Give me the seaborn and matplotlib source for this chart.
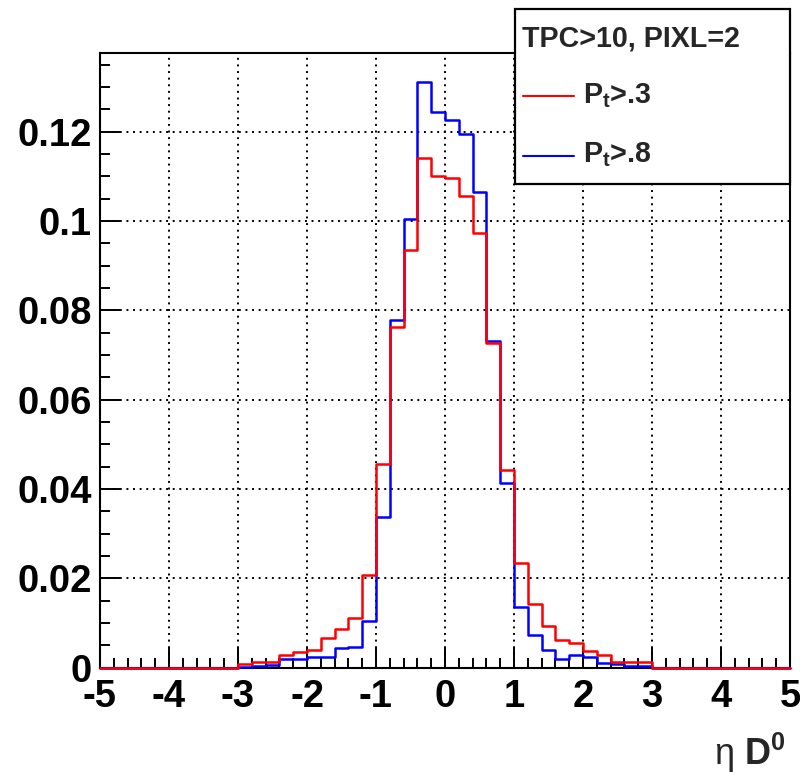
import numpy as np
import pandas as pd
import seaborn as sns
import matplotlib
matplotlib.use("Agg")
import matplotlib.pyplot as plt
from matplotlib.patches import Rectangle
from matplotlib.lines import Line2D
from matplotlib.ticker import MultipleLocator, FixedLocator, FixedFormatter

# ---- data (bin edges -5..5, width 0.2) ----
bin_edges = [round(-5.0 + 0.2 * i, 2) for i in range(51)]
pt03 = [0, 0, 0, 0, 0, 0, 0, 0, 0, 0,
        0.0007, 0.0012, 0.0012, 0.0029, 0.0034, 0.0040, 0.0066, 0.0087, 0.0110, 0.0206,
        0.0455, 0.0762, 0.0934, 0.1140, 0.1101, 0.1097, 0.1055, 0.0973, 0.0726, 0.0443,
        0.0233, 0.0142, 0.0094, 0.0062, 0.0055, 0.0036, 0.0028, 0.0012, 0.0012, 0.0012,
        0, 0, 0, 0, 0, 0, 0, 0, 0, 0]
pt08 = [0, 0, 0, 0, 0, 0, 0, 0, 0, 0,
        0.0002, 0.0003, 0.0005, 0.0018, 0.0018, 0.0023, 0.0023, 0.0044, 0.0045, 0.0104,
        0.0336, 0.0778, 0.1004, 0.1312, 0.1243, 0.1226, 0.1194, 0.1064, 0.0730, 0.0412,
        0.0135, 0.0072, 0.0040, 0.0018, 0.0028, 0.0023, 0.0010, 0.0007, 0.0003, 0.0003,
        0, 0, 0, 0, 0, 0, 0, 0, 0, 0]
x_ticks = [-5, -4, -3, -2, -1, 0, 1, 2, 3, 4, 5]
x_tick_labels = ["-5", "-4", "-3", "-2", "-1", "0", "1", "2", "3", "4", "5"]
y_ticks = [0, 0.02, 0.04, 0.06, 0.08, 0.10, 0.12]
y_tick_labels = ["0", "0.02", "0.04", "0.06", "0.08", "0.1", "0.12"]
legend_title = "TPC>10, PIXL=2"
series_labels = [r"$\mathbf{P}_\mathbf{t}$>.3", r"$\mathbf{P}_\mathbf{t}$>.8"]
x_label = r"η $\mathbf{D}^\mathbf{0}$"

edges_arr = np.array(bin_edges)
centers = (edges_arr[:-1] + edges_arr[1:]) / 2
df = pd.DataFrame({"eta": np.concatenate([centers, centers]),
                   "w": pt03 + pt08,
                   "sel": ["pt03"] * len(centers) + ["pt08"] * len(centers)})

sns.set_style("white")
plt.rcParams["font.family"] = ["Liberation Sans", "DejaVu Sans"]
plt.rcParams["mathtext.fontset"] = "custom"
plt.rcParams["mathtext.rm"] = "Liberation Sans"
plt.rcParams["mathtext.bf"] = "Liberation Sans:bold"
plt.rcParams["mathtext.it"] = "Liberation Sans:italic"

fig = plt.figure(figsize=(8, 7.75), dpi=100)
ax = fig.add_axes([100 / 800, 1 - 667.5 / 775, 690 / 800, (667.5 - 52.5) / 775])

sns.histplot(data=df[df.sel == "pt08"], x="eta", weights="w", bins=bin_edges,
             element="step", fill=False, color="#0000ff", linewidth=1.8, ax=ax)
sns.histplot(data=df[df.sel == "pt03"], x="eta", weights="w", bins=bin_edges,
             element="step", fill=False, color="#ff0000", linewidth=1.8, ax=ax)
for i, ln in enumerate(ax.lines):
    ln.set_zorder(3 + i)
    ln.set_clip_on(False)

ax.set_xlim(-5, 5)
ax.set_ylim(0, 0.1377)
ax.set_xlabel("")
ax.set_ylabel("")

ax.xaxis.set_major_locator(FixedLocator(x_ticks))
ax.xaxis.set_major_formatter(FixedFormatter(x_tick_labels))
ax.yaxis.set_major_locator(FixedLocator(y_ticks))
ax.yaxis.set_major_formatter(FixedFormatter(y_tick_labels))
ax.xaxis.set_minor_locator(MultipleLocator(0.2))
ax.yaxis.set_minor_locator(MultipleLocator(0.005))

ax.tick_params(which="both", direction="in", bottom=True, left=True, top=False, right=False,
               color="black", width=1.4)
ax.tick_params(which="major", length=14.5)
ax.tick_params(which="minor", length=7.2)
ax.tick_params(axis="x", which="major", pad=8)
ax.tick_params(axis="y", which="major", pad=6)
for lab in ax.get_xticklabels() + ax.get_yticklabels():
    lab.set_fontsize(27.5)
    lab.set_fontweight("bold")
    lab.set_color("black")

ax.grid(which="major", color="black", linestyle=(0, (1, 2.4)), linewidth=1.4)
ax.set_axisbelow(True)
for s in ax.spines.values():
    s.set_visible(True)
    s.set_color("black")
    s.set_linewidth(1.5)
    s.set_zorder(2.5)

# legend box (ROOT TLegend style)
fig.add_artist(Rectangle((515 / 800, 1 - 184 / 775), 275 / 800, 175 / 775,
                         transform=fig.transFigure, facecolor="white",
                         edgecolor="black", linewidth=1.6, zorder=10))
fig.text(522 / 800, 1 - 46.7 / 775, legend_title, fontsize=20.6, fontweight="bold",
         ha="left", va="baseline", zorder=11)
colors = ["#ff0000", "#0000ff"]
line_y = [96, 155.7]
base_y = [103, 161.7]
for lab, c, ly, by in zip(series_labels, colors, line_y, base_y):
    fig.add_artist(Line2D([523 / 800, 574 / 800], [1 - ly / 775, 1 - ly / 775],
                          transform=fig.transFigure, color=c, linewidth=1.5, zorder=11))
    fig.text(583 / 800, 1 - by / 775, lab, fontsize=20.6, fontweight="bold",
             ha="left", va="baseline", zorder=11)

fig.text(786 / 800, 1 - 765 / 775, x_label, fontsize=26, ha="right", va="baseline")

fig.savefig("out.png", dpi=100, facecolor="white")
